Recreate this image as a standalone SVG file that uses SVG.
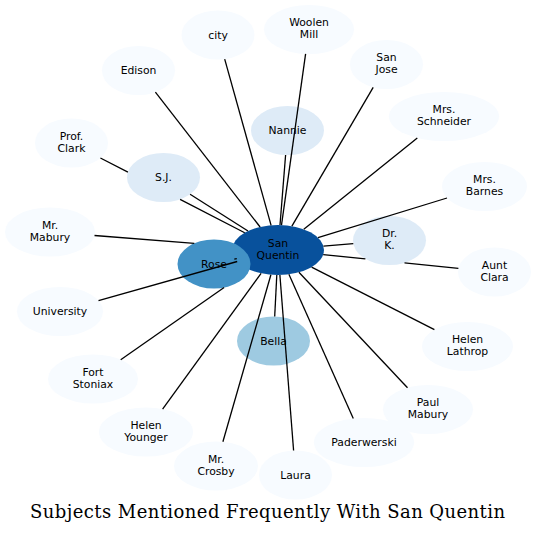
<svg xmlns="http://www.w3.org/2000/svg" width="536" height="535" viewBox="0 0 536 535">
<style>
.n0{fill:#f7fbff}
.n1{fill:#deebf7}
.n2{fill:#9ecae1}
.n3{fill:#4292c6}
.n4{fill:#08519c}
text.l{font-family:"DejaVu Sans",sans-serif;font-size:10.8px;fill:#000;text-anchor:middle}
text.t{font-family:"DejaVu Serif",serif;font-size:18px;fill:#000;text-anchor:middle}
#edges path{stroke:#000;stroke-width:1.3;fill:none}
</style>
<rect width="536" height="535" fill="#fff"/>
<g id="nodes">
<g id="n-city"><ellipse class="n0" cx="218" cy="35" rx="36.5" ry="24.5"/><text class="l" x="218" y="38.8">city</text></g>
<g id="n-woolen-mill"><ellipse class="n0" cx="309" cy="29.5" rx="45" ry="24.5"/><text class="l" x="309" y="26">Woolen</text><text class="l" x="309" y="38">Mill</text></g>
<g id="n-edison"><ellipse class="n0" cx="138.5" cy="70.5" rx="36.5" ry="24.5"/><text class="l" x="138.5" y="74.3">Edison</text></g>
<g id="n-san-jose"><ellipse class="n0" cx="386.5" cy="64.5" rx="36.5" ry="24.5"/><text class="l" x="386.5" y="61">San</text><text class="l" x="386.5" y="73">Jose</text></g>
<g id="n-mrs-schneider"><ellipse class="n0" cx="444" cy="116.5" rx="55" ry="24.5"/><text class="l" x="444" y="113">Mrs.</text><text class="l" x="444" y="125">Schneider</text></g>
<g id="n-mrs-barnes"><ellipse class="n0" cx="484.5" cy="186.5" rx="42.5" ry="24.5"/><text class="l" x="484.5" y="183">Mrs.</text><text class="l" x="484.5" y="195">Barnes</text></g>
<g id="n-nannie"><ellipse class="n1" cx="287.5" cy="130.5" rx="36.5" ry="24.5"/><text class="l" x="287.5" y="134.3">Nannie</text></g>
<g id="n-sj"><ellipse class="n1" cx="163.5" cy="177.5" rx="36.5" ry="24.5"/><text class="l" x="163.5" y="181.3">S.J.</text></g>
<g id="n-prof-clark"><ellipse class="n0" cx="71.5" cy="143" rx="36.5" ry="24.5"/><text class="l" x="71.5" y="139.5">Prof.</text><text class="l" x="71.5" y="151.5">Clark</text></g>
<g id="n-mr-mabury"><ellipse class="n0" cx="50" cy="232" rx="45" ry="24.5"/><text class="l" x="50" y="228.5">Mr.</text><text class="l" x="50" y="240.5">Mabury</text></g>
<g id="n-university"><ellipse class="n0" cx="60" cy="311.5" rx="43" ry="24.5"/><text class="l" x="60" y="315.3">University</text></g>
<g id="n-fort-stoniax"><ellipse class="n0" cx="93" cy="379" rx="45" ry="24.5"/><text class="l" x="93" y="375.5">Fort</text><text class="l" x="93" y="387.5">Stoniax</text></g>
<g id="n-helen-younger"><ellipse class="n0" cx="146" cy="432" rx="47" ry="24.5"/><text class="l" x="146" y="428.5">Helen</text><text class="l" x="146" y="440.5">Younger</text></g>
<g id="n-mr-crosby"><ellipse class="n0" cx="216" cy="466" rx="42" ry="24.5"/><text class="l" x="216" y="462.5">Mr.</text><text class="l" x="216" y="474.5">Crosby</text></g>
<g id="n-bella"><ellipse class="n2" cx="273.5" cy="341" rx="36.5" ry="24.5"/><text class="l" x="273.5" y="344.8">Bella</text></g>
<g id="n-laura"><ellipse class="n0" cx="295.5" cy="475" rx="36.5" ry="24.5"/><text class="l" x="295.5" y="478.8">Laura</text></g>
<g id="n-paderwerski"><ellipse class="n0" cx="364" cy="442.5" rx="50" ry="24.5"/><text class="l" x="364" y="446.3">Paderwerski</text></g>
<g id="n-paul-mabury"><ellipse class="n0" cx="428" cy="409.5" rx="45" ry="24.5"/><text class="l" x="428" y="406">Paul</text><text class="l" x="428" y="418">Mabury</text></g>
<g id="n-helen-lathrop"><ellipse class="n0" cx="467.5" cy="346.5" rx="45.5" ry="24.5"/><text class="l" x="467.5" y="343">Helen</text><text class="l" x="467.5" y="355">Lathrop</text></g>
<g id="n-aunt-clara"><ellipse class="n0" cx="494.5" cy="272" rx="36.5" ry="24.5"/><text class="l" x="494.5" y="268.5">Aunt</text><text class="l" x="494.5" y="280.5">Clara</text></g>
<g id="n-dr-k"><ellipse class="n1" cx="389.5" cy="240.5" rx="36.5" ry="24.5"/><text class="l" x="389.5" y="237">Dr.</text><text class="l" x="389.5" y="249">K.</text></g>
<g id="n-san-quentin"><ellipse class="n4" cx="278" cy="250" rx="46" ry="25"/><text class="l" x="278" y="246.5">San</text><text class="l" x="278" y="258.5">Quentin</text></g>
<g id="n-rose"><ellipse class="n3" cx="214" cy="264" rx="36.5" ry="24.5"/><text class="l" x="214" y="267.8">Rose</text></g>
</g>
<g id="edges">
<path d="M271.1,225.3L224.7,59.1"/>
<path d="M281.5,225.1L305.6,53.9"/>
<path d="M260.1,227L155.4,92.2"/>
<path d="M291.9,226.2L373.2,87.3"/>
<path d="M303.8,229.3L417.3,137.9"/>
<path d="M318,237.7L447,198"/>
<path d="M280,225L285.6,155"/>
<path d="M248,231L190.1,194.3"/>
<path d="M100.4,158L127.9,172.2M180.1,199.3L244.7,232.75"/>
<path d="M94.5,235.5L194.3,243.4"/>
<path d="M234.3,259.2L236.8,258.7"/>
<path d="M237.2,261.5L98.5,300.6"/>
<path d="M224.1,287.5L120.7,359.7"/>
<path d="M261.1,273.3L162.6,409.1"/>
<path d="M270.9,274.7L222.9,441.8"/>
<path d="M276.8,275L274.7,316.5"/>
<path d="M279.9,275L293.6,450.5"/>
<path d="M288.9,274.3L353.3,418.6"/>
<path d="M298.9,272.3L407.5,387.7"/>
<path d="M311.6,267.1L434.4,329.7"/>
<path d="M323.2,254.6L365.4,258.9M404.5,262.8L458.4,268.3"/>
<path d="M323.4,246.1L353.3,243.6"/>
</g>
<text class="t" x="267.5" y="517.5" textLength="475" lengthAdjust="spacing">Subjects Mentioned Frequently With San Quentin</text>
</svg>
